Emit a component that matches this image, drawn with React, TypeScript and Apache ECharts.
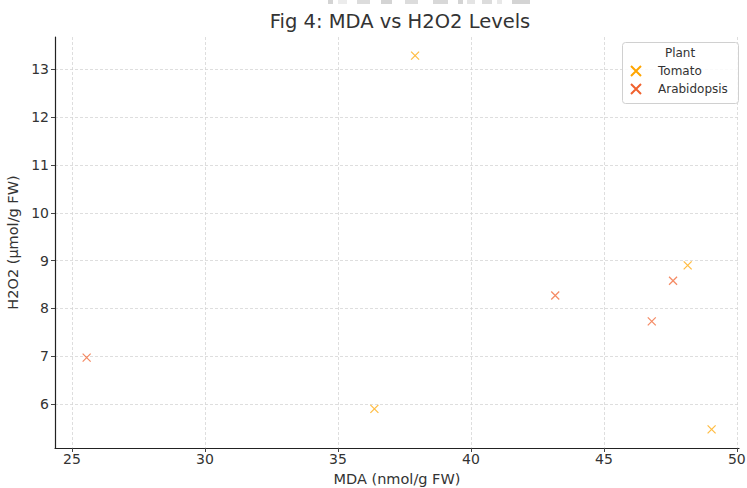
import React, { useEffect, useRef } from "react";
import * as echarts from "echarts";

const seriesNames = ["Tomato", "Arabidopsis"];
const tomatoMDA = [37.9, 36.37, 48.15, 49.05];
const tomatoH2O2 = [13.29, 5.9, 8.9, 5.47];
const arabMDA = [25.55, 43.17, 46.8, 47.6];
const arabH2O2 = [6.97, 8.27, 7.73, 8.58];
const xTicks = [25, 30, 35, 40, 45, 50];
const yTicks = [6, 7, 8, 9, 10, 11, 12, 13];
const colors = ["#ffa500", "#f0622e"];

const FONT = "DejaVu Sans";
const X_SYMBOL = "path://M0,0L10,10M10,0L0,10";

// faint grey fragments along the top edge of the reference image: [x, width, grey]
const topBits: [number, number, string][] = [
  [328, 5, "#d4d4d4"], [338, 9, "#ececec"], [357, 13, "#dcdcdc"], [381, 11, "#d4d4d4"],
  [405, 13, "#dcdcdc"], [433, 15, "#d8d8d8"], [458, 5, "#d4d4d4"], [467, 8, "#e4e4e4"],
  [482, 10, "#dcdcdc"], [497, 5, "#e8e8e8"], [512, 18, "#d4d4d4"],
];

export default function App() {
  const ref = useRef<HTMLDivElement>(null);
  useEffect(() => {
    if (!ref.current) return;
    const chart = echarts.init(ref.current, null, { renderer: "svg" });
    const pairs = (xs: number[], ys: number[]) => xs.map((x, i) => [x, ys[i]]);
    const mk = (name: string, data: number[][], color: string) => ({
      name,
      type: "scatter",
      data,
      symbol: X_SYMBOL,
      symbolSize: 8,
      itemStyle: { color, borderColor: color, borderWidth: 1.2, opacity: 0.75 },
      emphasis: { disabled: true },
    });
    chart.setOption({
      animation: false,
      textStyle: { fontFamily: FONT },
      grid: { left: 55, right: 8, top: 37, bottom: 40, containLabel: false, outerBoundsMode: "none" },
      xAxis: {
        type: "value",
        min: 24.36,
        max: 50.08,
        interval: 5,
        name: "MDA (nmol/g FW)",
        nameLocation: "middle",
        nameGap: 23,
        nameTextStyle: { fontFamily: FONT, fontSize: 14.5, color: "#333" },
        axisLine: { show: true, onZero: false, lineStyle: { color: "#222", width: 1.2 } },
        axisTick: { show: true, length: 4, lineStyle: { color: "#444" }, customValues: xTicks },
        axisLabel: { fontFamily: FONT, fontSize: 14, color: "#333", margin: 4, customValues: xTicks },
        splitLine: { show: true, lineStyle: { color: "#d6d6d6", type: [3, 2], width: 0.8 } },
      },
      yAxis: {
        type: "value",
        min: 5.08,
        max: 13.68,
        interval: 1,
        name: "H2O2 (µmol/g FW)",
        nameLocation: "middle",
        nameGap: 30,
        nameTextStyle: { fontFamily: FONT, fontSize: 14.5, color: "#333" },
        axisLine: { show: true, onZero: false, lineStyle: { color: "#222", width: 1.2 } },
        axisTick: { show: true, length: 4, lineStyle: { color: "#444" }, customValues: yTicks },
        axisLabel: { fontFamily: FONT, fontSize: 14, color: "#333", margin: 6, customValues: yTicks },
        splitLine: { show: true, lineStyle: { color: "#d6d6d6", type: [3, 2], width: 0.8 } },
      },
      legend: {
        data: seriesNames,
        orient: "vertical",
        left: 630,
        top: 65,
        itemWidth: 20,
        itemHeight: 10,
        itemGap: 6,
        padding: 0,
        textStyle: { fontFamily: FONT, fontSize: 12, color: "#333", padding: [0, 0, 0, 7] },
        itemStyle: { opacity: 1 },
      },
      graphic: [
        ...topBits.map(([x, w, c]) => ({
          type: "rect",
          z: 1,
          shape: { x, y: 0, width: w, height: 4 },
          style: { fill: c },
        })),
        {
          type: "rect",
          z: 3,
          shape: { x: 622.5, y: 42.5, width: 116, height: 61, r: 3 },
          style: { fill: "rgba(255,255,255,0.85)", stroke: "#d0d0d0", lineWidth: 1 },
        },
        {
          type: "text",
          z: 5,
          x: 680,
          y: 53,
          style: { text: "Plant", font: `12px '${FONT}'`, fill: "#333", textAlign: "center", textVerticalAlign: "middle" },
        },
        {
          type: "text",
          z: 5,
          x: 400,
          y: 21,
          style: {
            text: "Fig 4: MDA vs H2O2 Levels",
            font: `19.5px '${FONT}'`,
            fill: "#333",
            textAlign: "center",
            textVerticalAlign: "middle",
          },
        },
      ],
      series: [
        mk(seriesNames[0], pairs(tomatoMDA, tomatoH2O2), colors[0]),
        mk(seriesNames[1], pairs(arabMDA, arabH2O2), colors[1]),
      ],
    });
    return () => chart.dispose();
  }, []);
  return (
    <div
      ref={ref}
      style={{ position: "fixed", left: 0, top: 0, width: 747, height: 488, background: "#fff" }}
    />
  );
}
